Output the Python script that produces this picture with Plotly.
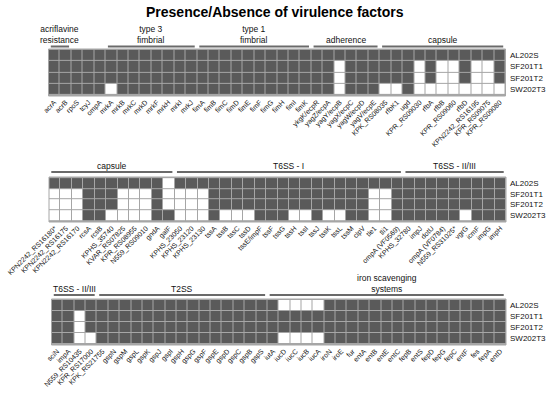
import plotly.graph_objects as go

# ---------------- data ----------------
rows = ["AL202S", "SF201T1", "SF201T2", "SW202T3"]

genes1 = ["acrA", "acrB", "rpoS", "tcyJ", "ompA", "mrkA", "mrkB", "mrkC", "mrkD", "mrkF",
          "mrkH", "mrkI", "mrkJ", "fimA", "fimB", "fimC", "fimD", "fimE", "fimF", "fimG",
          "fimH", "fimI", "fimK", "ykgK/ecpR", "yagZ/ecpA", "yagY/ecpB", "yagX/ecpC",
          "yagW/ecpD", "yagV/ecpE", "KPK_RS08035", "rfbK1", "ugd", "KPR_RS09030", "rfbA",
          "rfbB", "KPR_RS09060", "rfbD", "KPN2242_RS16195", "KPR_RS09075", "KPR_RS09080"]
presence1 = {
    "AL202S":  "1111111111111111111111111111111111111111",
    "SF201T1": "1111111111111111111111111011111101001001",
    "SF201T2": "1111111111111111111111111011111101001001",
    "SW202T3": "1111101111111111111111111011100100000000",
}
groups1 = [("acriflavine<br>resistance", 0, 1), ("type 3<br>fimbrial", 5, 12),
           ("type 1<br>fimbrial", 13, 22), ("adherence", 23, 28), ("capsule", 29, 39)]

genes2 = ["KPN2242_RS16180*", "KPN2242_RS16175", "KPN2242_RS16170", "rcsA", "rcsB",
          "KPHS_35740", "KVAR_RS07825", "KPR_RS08955", "N559_RS09010", "gndA", "galF",
          "KPHS_23050", "KPHS_23120", "KPHS_23130", "tssA", "tssB", "tssC", "tssD",
          "tssE/impF", "tssF", "tssG", "tssH", "tssI", "tssJ", "tssK", "tssL", "tssM",
          "clpV", "tle1", "tli1", "ompA (VF0569)", "KPHS_32780", "impJ", "dotU",
          "ompA (VF0784)", "N559_RS31025*", "vgrG", "icmF", "impG", "impH"]
presence2 = {
    "AL202S":  "1111111111011111111111111111111111111111",
    "SF201T1": "0001110001000011111111111111001111111111",
    "SF201T2": "0001110001000011111111111111001111111111",
    "SW202T3": "0001100001100010001110010011001111110111",
}
groups2 = [("capsule", 0, 10), ("T6SS - I", 11, 30), ("T6SS - II/III", 31, 39)]

genes3 = ["sciN", "impA", "N559_RS10435", "KPR_RS17000", "KPK_RS21755", "gspN", "gspM",
          "gspL", "gspK", "gspJ", "gspI", "gspH", "gspG", "gspF", "gspE", "gspD", "gspC",
          "gspB", "gspS", "iutA", "iucD", "iucC", "iucB", "iucA", "iroN", "iroE", "fur",
          "entA", "entB", "entE", "entC", "fepB", "entS", "fepD", "fepG", "fepC", "entF",
          "fes", "fepA", "entD"]
presence3 = {
    "AL202S":  "1111111111111111111100001111111111111111",
    "SF201T1": "1101111111111111111111111111111111111111",
    "SF201T2": "1101111111111111111111111111111111111111",
    "SW202T3": "1100111111111111111100001111111111111111",
}
groups3 = [("T6SS - II/III", 0, 3), ("T2SS", 4, 18), ("iron scavenging<br>systems", 19, 39)]

title = "Presence/Absence of virulence factors"

# ---------------- layout / style ----------------
W, H = 550, 393
DARK = "#5a5a5a"
GAP = "#a6a6a6"
BAR = "#6a6a6a"
FONT = "Liberation Sans, Arial, sans-serif"

# pixel geometry of each panel: (left, right, top, bottom, bar_y)
geoms = [(48.5, 505.5, 49, 96, 46.5),
         (49, 506, 177, 222, 172),
         (51.5, 506, 299, 345, 295)]

def px(x):
    return x / W

def py(y):
    return 1 - y / H

panels = [(genes1, presence1, groups1), (genes2, presence2, groups2), (genes3, presence3, groups3)]

fig = go.Figure()
layout = {}
shapes = []
annotations = []

for i, ((genes, pres, groups), (l, r, t, b, bar_y)) in enumerate(zip(panels, geoms)):
    n = "" if i == 0 else str(i + 1)
    xa, ya = "x" + n, "y" + n
    z = [[int(c) for c in pres[row]] for row in rows]
    fig.add_trace(go.Heatmap(
        z=z, x=list(range(len(genes))), y=rows, xaxis=xa, yaxis=ya,
        zmin=0, zmax=1, colorscale=[[0, "#ffffff"], [1, DARK]],
        xgap=1, ygap=1, showscale=False, hoverinfo="skip"))
    layout["xaxis" + n] = dict(
        domain=[px(l), px(r)], anchor=ya, range=[-0.5, len(genes) - 0.5],
        tickmode="array", tickvals=list(range(len(genes))), ticktext=genes,
        tickangle=-45, tickfont=dict(size=7, color="#111", family=FONT),
        showgrid=False, zeroline=False, showline=False, ticks="", automargin=False,
        fixedrange=True)
    layout["yaxis" + n] = dict(
        domain=[py(b), py(t)], anchor=xa, autorange="reversed", showticklabels=False,
        showgrid=False, zeroline=False, showline=False, ticks="", automargin=False,
        fixedrange=True)
    shapes.append(dict(type="rect", xref="paper", yref="paper",
                       x0=px(l), x1=px(r), y0=py(b), y1=py(t),
                       line=dict(color=GAP, width=1), fillcolor="rgba(0,0,0,0)"))
    for row in rows:
        annotations.append(dict(xref="paper", yref=ya, x=px(r + 2), y=row,
                                xanchor="left", yanchor="middle", showarrow=False,
                                text=row, font=dict(size=8, color="#111", family=FONT)))
    for label, s, e in groups:
        shapes.append(dict(type="line", xref=xa, yref="paper",
                           x0=s - 0.5 + 0.2, x1=e + 0.5 - 0.2, y0=py(bar_y), y1=py(bar_y),
                           line=dict(color=BAR, width=2)))
        annotations.append(dict(xref=xa, yref="paper", x=(s + e) / 2, y=py(bar_y + 0.5),
                                yanchor="bottom", xanchor="center", showarrow=False,
                                text=label, align="center",
                                font=dict(size=8.5, color="#111", family=FONT)))

annotations.append(dict(xref="paper", yref="paper", x=0.5, y=py(12), yanchor="middle",
                        xanchor="center", showarrow=False, text="<b>" + title + "</b>",
                        font=dict(size=14, color="#000", family=FONT)))

fig.update_layout(
    width=W, height=H, margin=dict(l=0, r=0, t=0, b=0),
    paper_bgcolor="white", plot_bgcolor=GAP, showlegend=False, hovermode=False,
    shapes=shapes, annotations=annotations, **layout)

fig.write_html("out.html", config={"displayModeBar": False, "staticPlot": True},
               post_script="document.body.style.margin='0';document.body.style.overflow='hidden';")
